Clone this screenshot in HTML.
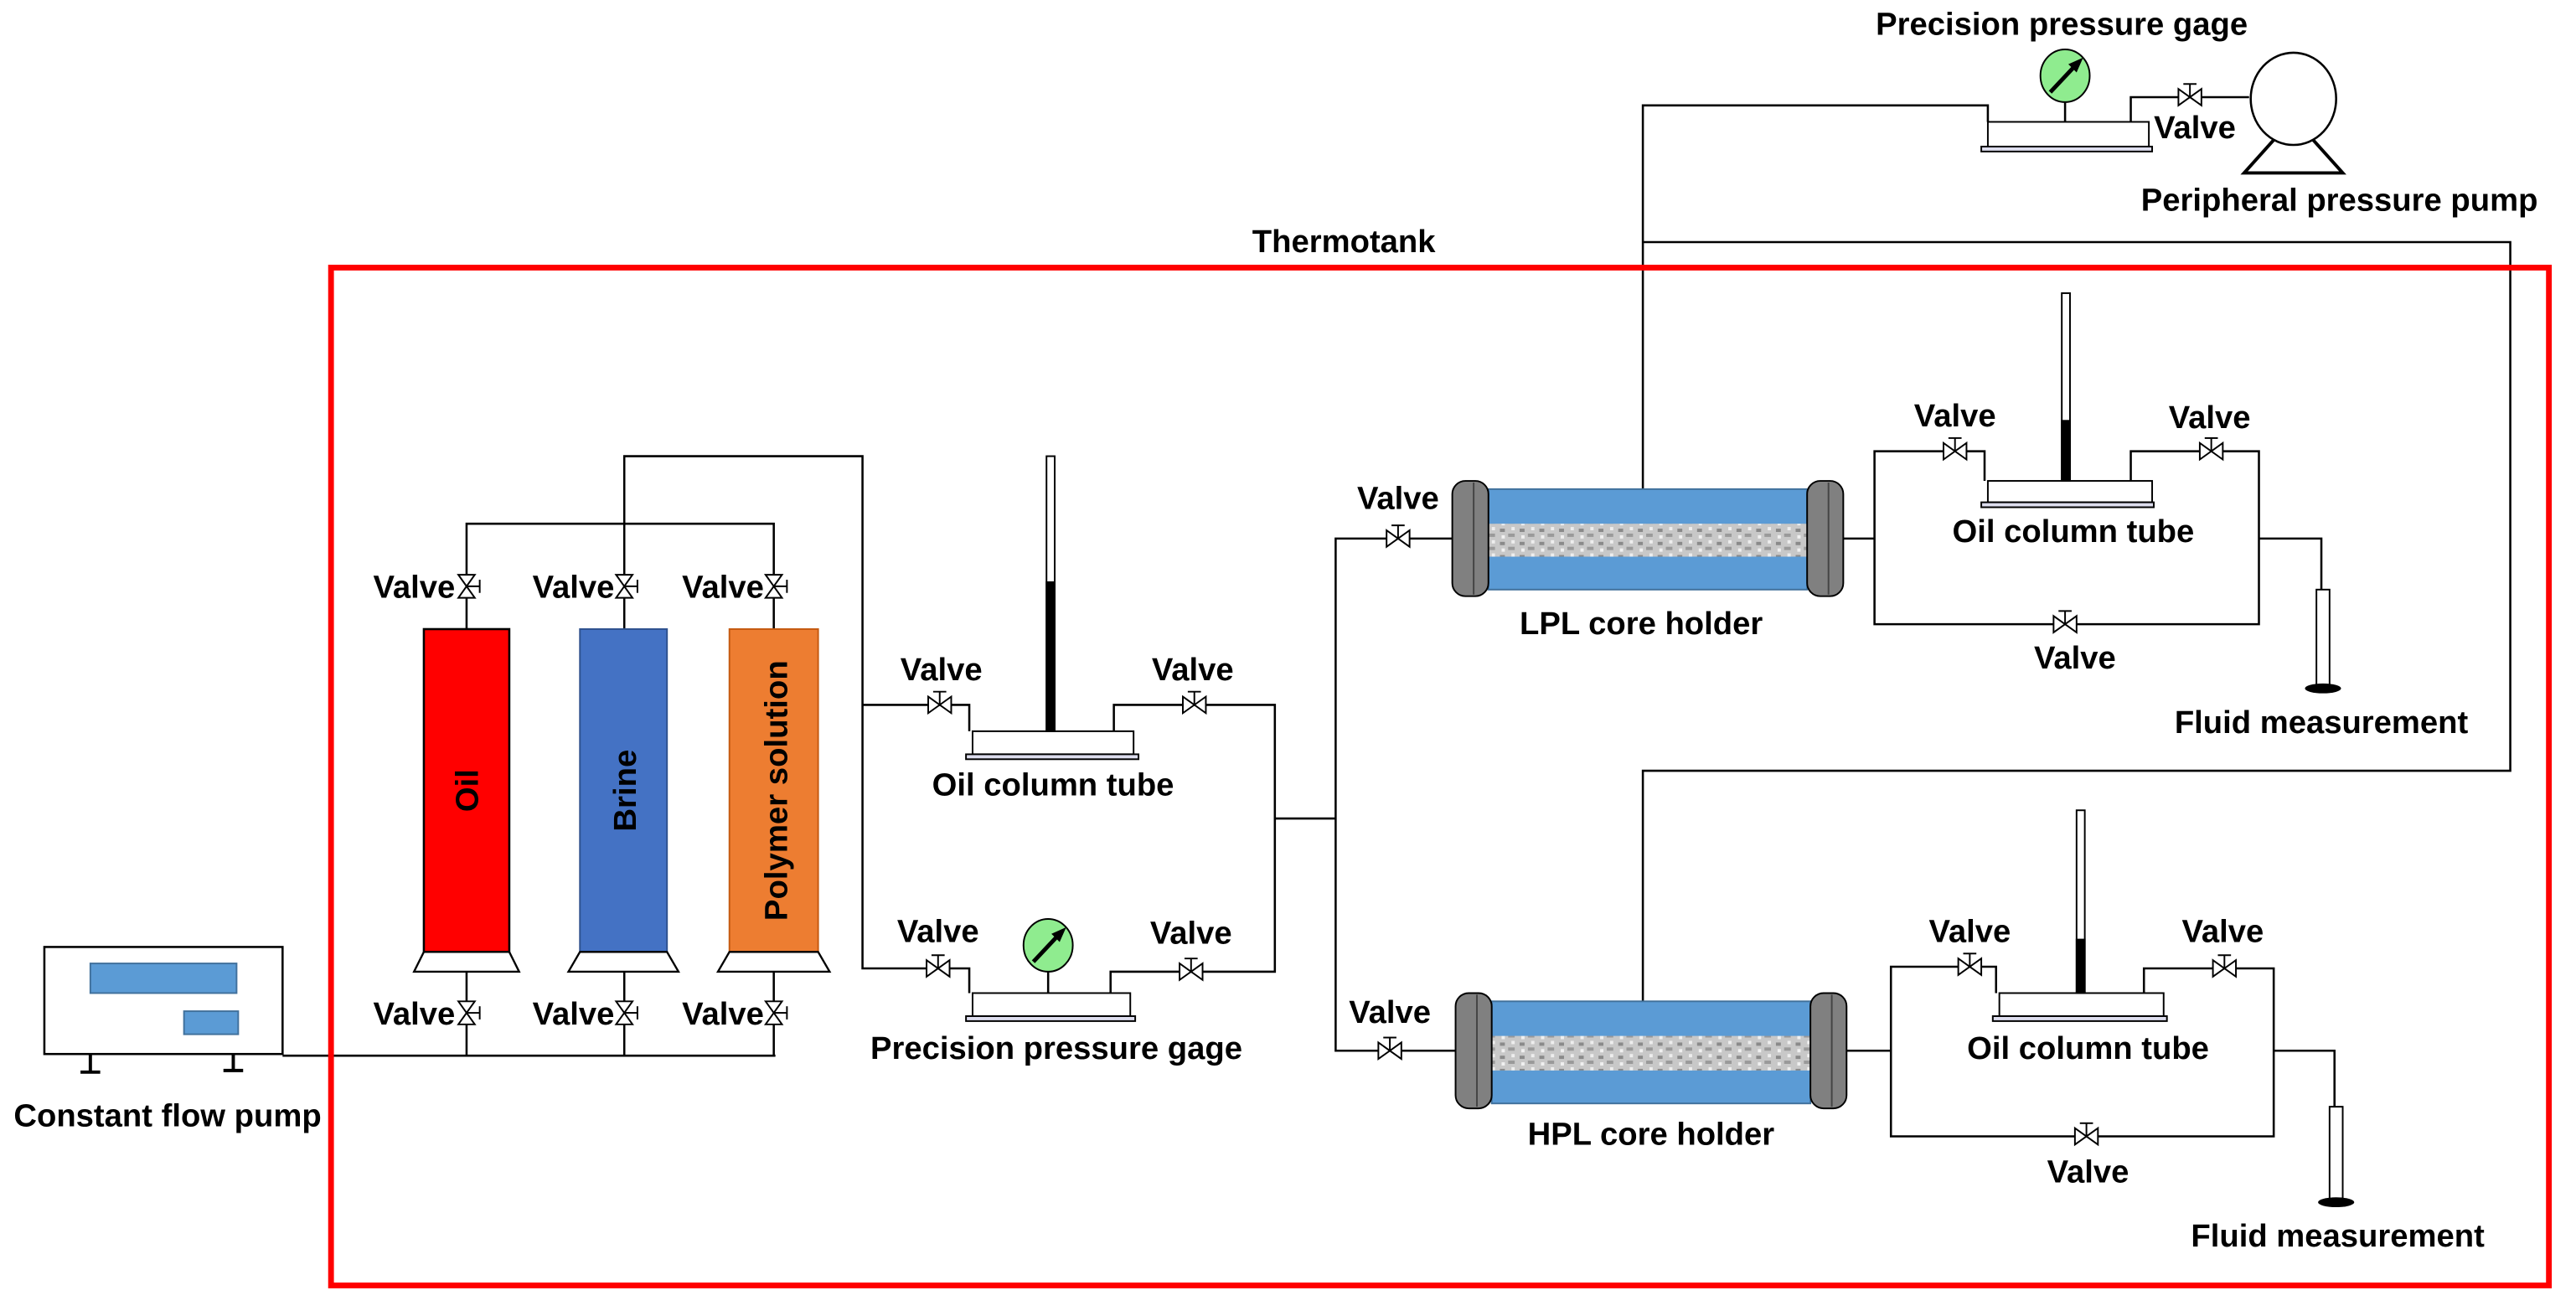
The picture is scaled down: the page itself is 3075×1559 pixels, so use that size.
<!DOCTYPE html>
<html><head><meta charset="utf-8"><style>
html,body{margin:0;padding:0;background:#fff;}
svg{display:block;}
text{font-family:"Liberation Sans",Arial,sans-serif;font-weight:bold;fill:#000;font-size:19.5px;}
</style></head><body>
<svg width="3075" height="1559" viewBox="0 0 1568 793" preserveAspectRatio="none" xmlns="http://www.w3.org/2000/svg">
<defs>
<pattern id="rock" width="12" height="8" patternUnits="userSpaceOnUse">
<rect width="12" height="8" fill="#c8c8c8"/>
<rect x="1" y="1" width="3" height="2" fill="#8a8a8a"/>
<rect x="6" y="4" width="4" height="2" fill="#9a9a9a"/>
<rect x="8" y="0" width="2" height="2" fill="#eee"/>
<rect x="2" y="5" width="2" height="2" fill="#f0f0f0"/>
</pattern>
<g id="vh"><path d="M-7,-5 L7,5 L7,-5 L-7,5 Z" fill="#fff" stroke="#000" stroke-width="1"/><line x1="0" y1="0" x2="0" y2="-8" stroke="#000"/><line x1="-4" y1="-8" x2="4" y2="-8" stroke="#000"/></g>
<g id="vv"><path d="M-5,-7 L5,7 L-5,7 L5,-7 Z" fill="#fff" stroke="#000" stroke-width="1"/><line x1="0" y1="0" x2="8" y2="0" stroke="#000"/><line x1="8" y1="-4" x2="8" y2="4" stroke="#000"/></g>
<g id="gage"><ellipse cx="0" cy="0" rx="15" ry="16" fill="#8fec8f" stroke="#000"/><line x1="-9" y1="10" x2="7" y2="-7" stroke="#000" stroke-width="2.5"/><path d="M11,-11 L2,-7 L7,-2 Z" fill="#000"/></g>
</defs>
<g stroke="#000" stroke-width="1.3" fill="none">
<rect x="27" y="575" width="145" height="65" fill="#fff"/>
<polyline points="172,641 472,641"/>
<polyline points="284,578 284,641"/><polyline points="380,578 380,641"/><polyline points="471,578 471,641"/>
<polyline points="284,382 284,318 471,318 471,382"/>
<polyline points="380,382 380,277 525,277 525,588 590,588 590,603"/>
<polyline points="525,428 590,428 590,444"/>
<polyline points="678,444 678,428 776,428 776,590 688,590 676,590 676,603"/>
<polyline points="776,497 813,497"/>
<polyline points="851,327 813,327 813,638 886,638"/>
<line x1="851" y1="327" x2="884" y2="327"/>
<line x1="638" y1="589" x2="638" y2="603"/>
<polyline points="1122,327 1141,327"/>
<polyline points="1208,292 1208,274 1141,274 1141,379 1375,379 1375,274 1297,274 1297,292"/>
<polyline points="1375,327 1413,327 1413,358"/>
<polyline points="1000,297 1000,64 1210,64 1210,74"/>
<polyline points="1297,74 1297,59 1369,59"/>
<line x1="1257" y1="62" x2="1257" y2="74"/>
<polyline points="1000,147 1528,147 1528,468 1000,468 1000,608"/>
<polyline points="1124,638 1151,638"/>
<polyline points="1215,603 1215,587 1151,587 1151,690 1384,690 1384,588 1305,588 1305,603"/>
<polyline points="1384,638 1421,638 1421,672"/>
</g>
<rect x="201.5" y="162.5" width="1350" height="618" fill="none" stroke="#f00" stroke-width="3.5"/>
<text x="818" y="153" text-anchor="middle">Thermotank</text>
<rect x="55" y="585" width="89" height="18" fill="#5b9bd5" stroke="#41719c"/>
<rect x="112" y="614" width="33" height="14" fill="#5b9bd5" stroke="#41719c"/>
<g stroke="#000" stroke-width="2"><line x1="55" y1="640" x2="55" y2="651"/><line x1="49" y1="651" x2="61" y2="651"/><line x1="142" y1="640" x2="142" y2="650"/><line x1="136" y1="650" x2="148" y2="650"/></g>
<text x="102" y="684" text-anchor="middle">Constant flow pump</text>
<rect x="258" y="382" width="52" height="196" fill="#f00" stroke="#000" stroke-width="1.3"/>
<rect x="353" y="382" width="53" height="196" fill="#4472c4" stroke="#2f528f"/>
<rect x="444" y="382" width="54" height="196" fill="#ed7d31" stroke="#c55a11"/>
<g fill="#fff" stroke="#000" stroke-width="1.2">
<path d="M258,578 L310,578 L316,590 L252,590 Z"/><path d="M353,578 L406,578 L413,590 L346,590 Z"/><path d="M444,578 L498,578 L505,590 L437,590 Z"/>
</g>
<text transform="translate(291,480) rotate(-90)" text-anchor="middle">Oil</text>
<text transform="translate(387,480) rotate(-90)" text-anchor="middle">Brine</text>
<text transform="translate(479,480) rotate(-90)" text-anchor="middle">Polymer solution</text>
<use href="#vv" x="284" y="356"/><use href="#vv" x="380" y="356"/><use href="#vv" x="471" y="356"/>
<use href="#vv" x="284" y="615"/><use href="#vv" x="380" y="615"/><use href="#vv" x="471" y="615"/>
<g text-anchor="end">
<text x="277" y="363">Valve</text><text x="374" y="363">Valve</text><text x="465" y="363">Valve</text>
<text x="277" y="622">Valve</text><text x="374" y="622">Valve</text><text x="465" y="622">Valve</text>
</g>
<rect x="592" y="444" width="98" height="14" fill="#fff" stroke="#000"/>
<rect x="588" y="458" width="105" height="3" fill="#dde" stroke="#000"/>
<rect x="637" y="277" width="5" height="167" fill="#fff" stroke="#000" stroke-width="1"/>
<rect x="636.5" y="353" width="6" height="91" fill="#000"/>
<use href="#vh" x="572" y="428"/><use href="#vh" x="727" y="428"/>
<g text-anchor="middle">
<text x="573" y="413">Valve</text><text x="726" y="413">Valve</text>
<text x="641" y="483">Oil column tube</text>
<text x="571" y="572">Valve</text><text x="725" y="573">Valve</text>
<text x="643" y="643">Precision pressure gage</text>
<text x="851" y="309">Valve</text><text x="846" y="621">Valve</text>
</g>
<rect x="592" y="603" width="96" height="14" fill="#fff" stroke="#000"/>
<rect x="588" y="617" width="103" height="3" fill="#dde" stroke="#000"/>
<use href="#gage" x="638" y="574"/>
<use href="#vh" x="571" y="588"/><use href="#vh" x="725" y="590"/>
<use href="#vh" x="851" y="327"/><use href="#vh" x="846" y="638"/>
<rect x="906" y="297" width="194" height="61" fill="#5b9bd5" stroke="#41719c"/>
<rect x="906" y="318" width="194" height="20" fill="url(#rock)"/>
<rect x="884" y="292" width="22" height="70" rx="8" fill="#808080" stroke="#000"/>
<rect x="1100" y="292" width="22" height="70" rx="8" fill="#808080" stroke="#000"/>
<line x1="897" y1="293" x2="897" y2="361" stroke="#444"/><line x1="1113" y1="293" x2="1113" y2="361" stroke="#444"/>
<text x="999" y="385" text-anchor="middle">LPL core holder</text>
<rect x="1210" y="292" width="100" height="13" fill="#fff" stroke="#000"/>
<rect x="1206" y="305" width="105" height="3" fill="#dde" stroke="#000"/>
<rect x="1255" y="178" width="5" height="114" fill="#fff" stroke="#000" stroke-width="1"/>
<rect x="1254.5" y="255" width="6" height="37" fill="#000"/>
<use href="#vh" x="1190" y="274"/><use href="#vh" x="1346" y="274"/><use href="#vh" x="1257" y="379"/>
<rect x="1410" y="358" width="8" height="60" fill="#fff" stroke="#000" stroke-width="1"/>
<ellipse cx="1414" cy="418" rx="11" ry="3" fill="#000"/>
<g text-anchor="middle">
<text x="1190" y="259">Valve</text><text x="1345" y="260">Valve</text>
<text x="1262" y="329">Oil column tube</text><text x="1263" y="406">Valve</text>
<text x="1413" y="445">Fluid measurement</text>
</g>
<rect x="1210" y="74" width="98" height="15" fill="#fff" stroke="#000"/>
<rect x="1206" y="89" width="104" height="3" fill="#dde" stroke="#000"/>
<use href="#gage" x="1257" y="46"/>
<use href="#vh" x="1333" y="59"/>
<ellipse cx="1396" cy="60" rx="26" ry="28" fill="#fff" stroke="#000" stroke-width="1.3"/>
<path d="M1384,85 L1366,105 L1426,105 L1408,85" fill="none" stroke="#000" stroke-width="2"/>
<g text-anchor="middle">
<text x="1255" y="21">Precision pressure gage</text>
<text x="1336" y="84">Valve</text>
<text x="1424" y="128">Peripheral pressure pump</text>
</g>
<rect x="908" y="608" width="194" height="62" fill="#5b9bd5" stroke="#41719c"/>
<rect x="908" y="629" width="194" height="21" fill="url(#rock)"/>
<rect x="886" y="603" width="22" height="70" rx="8" fill="#808080" stroke="#000"/>
<rect x="1102" y="603" width="22" height="70" rx="8" fill="#808080" stroke="#000"/>
<line x1="899" y1="604" x2="899" y2="672" stroke="#444"/><line x1="1115" y1="604" x2="1115" y2="672" stroke="#444"/>
<text x="1005" y="695" text-anchor="middle">HPL core holder</text>
<rect x="1217" y="603" width="100" height="14" fill="#fff" stroke="#000"/>
<rect x="1213" y="617" width="106" height="3" fill="#dde" stroke="#000"/>
<rect x="1264" y="492" width="5" height="111" fill="#fff" stroke="#000" stroke-width="1"/>
<rect x="1263.5" y="570" width="6" height="33" fill="#000"/>
<use href="#vh" x="1199" y="587"/><use href="#vh" x="1354" y="588"/><use href="#vh" x="1270" y="690"/>
<rect x="1418" y="672" width="8" height="58" fill="#fff" stroke="#000" stroke-width="1"/>
<ellipse cx="1422" cy="730" rx="11" ry="3" fill="#000"/>
<g text-anchor="middle">
<text x="1199" y="572">Valve</text><text x="1353" y="572">Valve</text>
<text x="1271" y="643">Oil column tube</text><text x="1271" y="718">Valve</text>
<text x="1423" y="757">Fluid measurement</text>
</g>
</svg>
</body></html>
